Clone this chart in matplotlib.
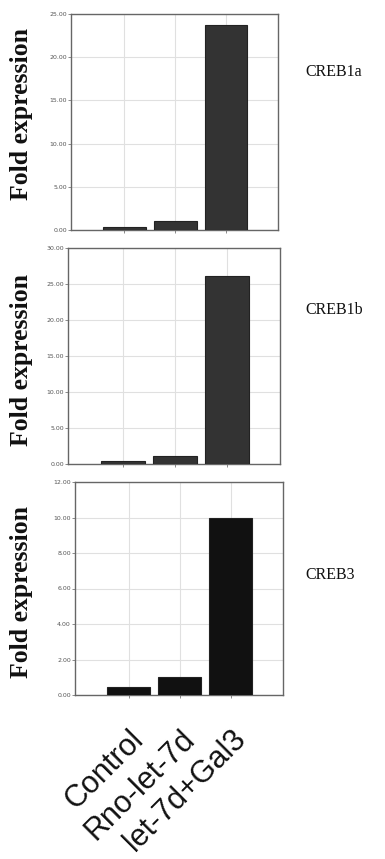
import matplotlib
matplotlib.use("Agg")
import matplotlib.pyplot as plt

categories = ["Control", "Rno-let-7d", "let-7d+Gal3"]
genes = ["CREB1a", "CREB1b", "CREB3"]
creb1a = [0.35, 1.0, 23.7]
creb1b = [0.35, 1.05, 26.1]
creb3 = [0.45, 1.0, 10.0]
ymax = [25, 30, 12]
ystep = [5, 5, 2]
bar_colors = ["#333333", "#333333", "#111111"]

# axes boxes in pixels: left, right, top, bottom
W, H = 385, 859
boxes = [(71, 278, 14, 230), (68, 280, 248, 464), (75, 283, 482, 695)]
ylabel_y = [114, 360, 592]
gene_y = [72, 310, 575]

fig = plt.figure(figsize=(W / 100, H / 100), dpi=100)

for i, vals in enumerate([creb1a, creb1b, creb3]):
    l, r, t, b = boxes[i]
    ax = fig.add_axes([l / W, 1 - b / H, (r - l) / W, (b - t) / H])
    x = list(range(len(categories)))
    ax.bar(x, vals, width=0.84, color=bar_colors[i], edgecolor="#222222",
           linewidth=0.8, zorder=3)
    ax.set_xlim(-1.05, 3.02)
    ax.set_ylim(0, ymax[i])
    ticks = [k * ystep[i] for k in range(int(ymax[i] / ystep[i]) + 1)]
    ax.set_yticks(ticks)
    ax.set_yticklabels(["%.2f" % v for v in ticks], fontsize=4.5, color="#555555")
    ax.set_xticks(x)
    ax.grid(True, color="#e0e0e0", linewidth=0.8, zorder=0)
    ax.tick_params(axis="y", length=2, width=0.6, color="#777777", pad=1)
    ax.tick_params(axis="x", length=2, width=0.6, color="#777777")
    for s in ax.spines.values():
        s.set_color("#666666")
        s.set_linewidth(1.0)
    if i < 2:
        ax.set_xticklabels([])
    else:
        ax.set_xticklabels(categories, rotation=45, ha="right", va="top",
                           rotation_mode="anchor", fontsize=22,
                           family="Liberation Sans", color="#111111")
        ax.tick_params(axis="x", pad=19)
    fig.text(22 / W, 1 - ylabel_y[i] / H, "Fold expression", rotation=90,
             ha="center", va="center", fontsize=18.5, fontweight="bold",
             family="Liberation Serif", color="#111111")
    fig.text(305 / W, 1 - gene_y[i] / H, genes[i], ha="left", va="center",
             fontsize=11.5, family="Liberation Serif", color="#111111")

fig.savefig("out.png", dpi=100)
